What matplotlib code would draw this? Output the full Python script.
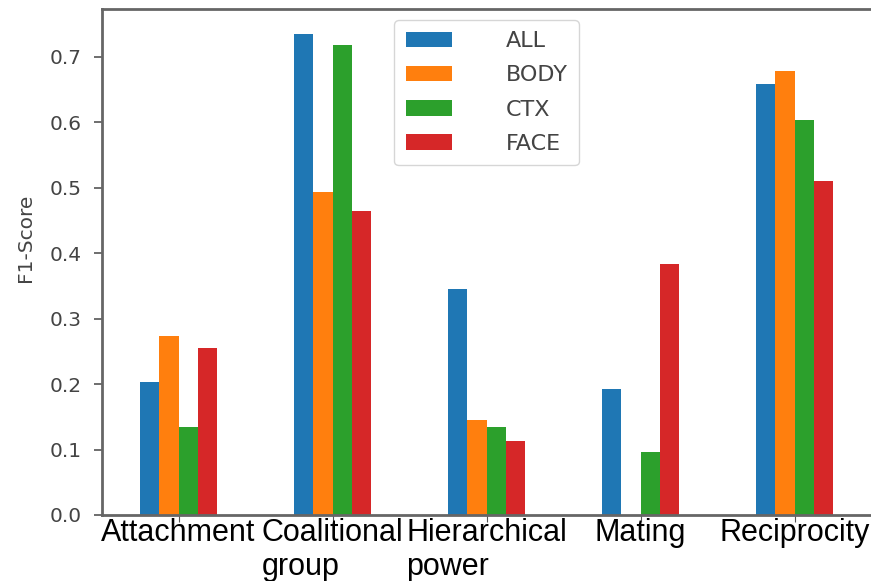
import pandas as pd
import matplotlib
matplotlib.use('Agg')
import matplotlib.pyplot as plt

categories = ['Attachment', 'Coalitional\ngroup', 'Hierarchical\npower', 'Mating', 'Reciprocity']
all_scores = [0.203, 0.735, 0.345, 0.192, 0.658]
body_scores = [0.273, 0.493, 0.145, 0.0, 0.678]
ctx_scores = [0.135, 0.718, 0.135, 0.096, 0.603]
face_scores = [0.255, 0.465, 0.113, 0.383, 0.511]

df = pd.DataFrame({'ALL': all_scores, 'BODY': body_scores,
                   'CTX': ctx_scores, 'FACE': face_scores}, index=categories)

fig = plt.figure(figsize=(8.71, 5.81), dpi=100)
ax = fig.add_axes([101.5 / 871, 66 / 581, 770 / 871, 506 / 581])
df.plot.bar(ax=ax, rot=0, width=0.5)

ax.set_ylim(0, 0.773)
ax.set_ylabel('F1-Score', fontsize=14.5, color='#444444')
ax.yaxis.set_label_coords(-0.086, 0.547)
ax.tick_params(axis='x', labelsize=22, pad=-3, length=5, color='#555555')
for lab in ax.get_xticklabels():
    lab.set_fontfamily('Liberation Sans')
    lab.set_multialignment('left')
ax.tick_params(axis='y', labelsize=14.5, labelcolor='#444444', length=6, width=1.2,
               color='#555555', pad=8)
for sp in ax.spines.values():
    sp.set_color('#666666')
    sp.set_linewidth(2)
ax.spines['right'].set_visible(False)

ax.legend(loc='upper center', fontsize=16, handletextpad=2.4, handlelength=2.1,
          labelcolor='#444444', borderpad=0.5, labelspacing=0.64, borderaxespad=0.5)

fig.savefig('out.png', dpi=100)
